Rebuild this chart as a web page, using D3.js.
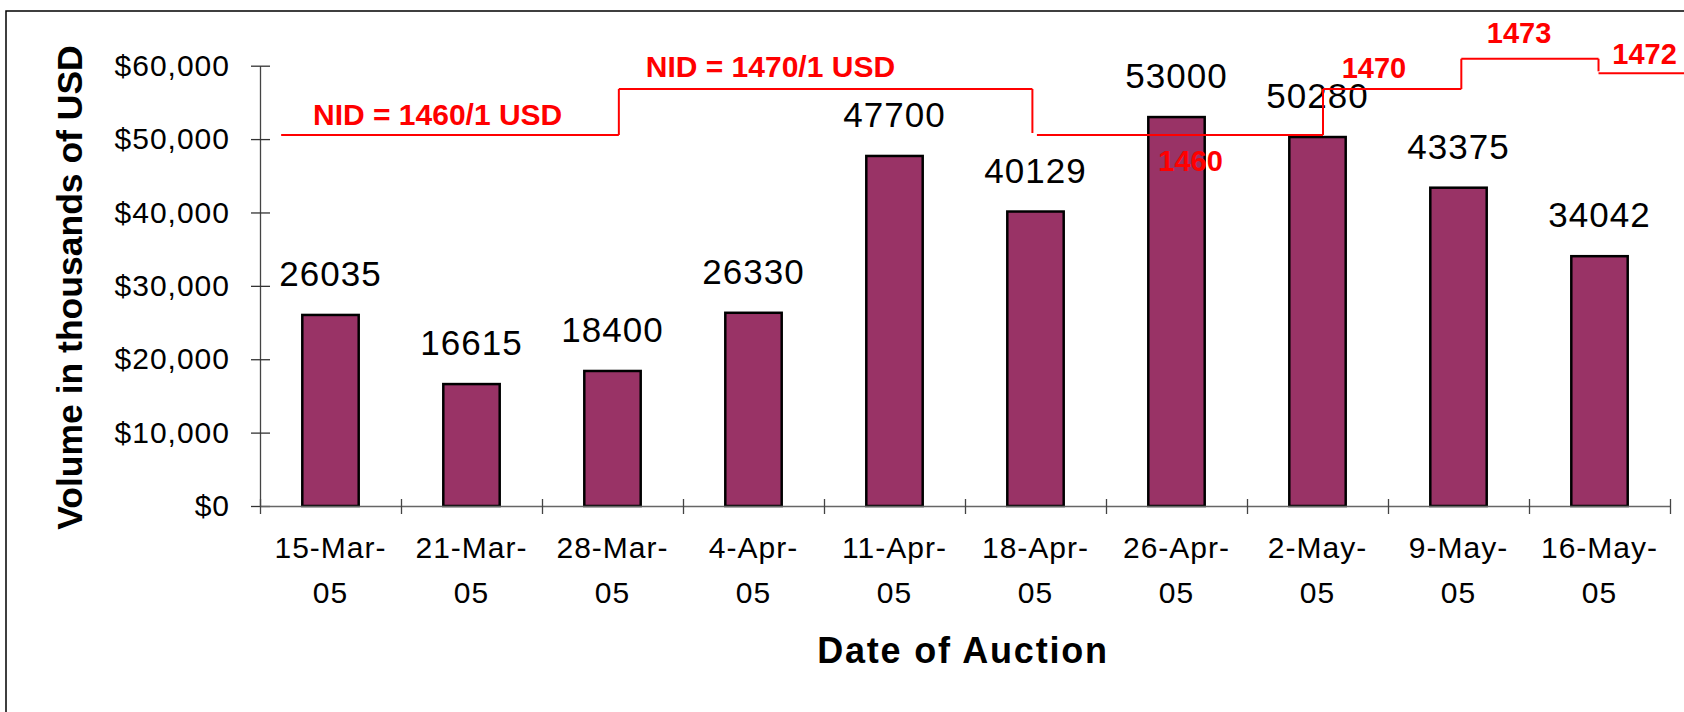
<!DOCTYPE html>
<html lang="en">
<head>
    <meta charset="UTF-8">
    <title>Volume by Date of Auction</title>
    <script src="https://d3js.org/d3.v7.min.js"></script>
    <style>
        body { margin: 0; background: #fff; }
        text { font-family: "Liberation Sans", Arial, sans-serif; }
    </style>
</head>
<body>
    <svg width="1684" height="712"></svg>

    <script>
        // data
        const categories = ["15-Mar-05", "21-Mar-05", "28-Mar-05", "4-Apr-05", "11-Apr-05",
                            "18-Apr-05", "26-Apr-05", "2-May-05", "9-May-05", "16-May-05"];
        const volumes = [26035, 16615, 18400, 26330, 47700, 40129, 53000, 50280, 43375, 34042];
        const yTicks = [0, 10000, 20000, 30000, 40000, 50000, 60000];

        // exchange rate annotation (NID per 1 USD)
        const rates = [1460, 1470, 1460, 1470, 1473, 1472];
        const rateLabels = ["NID = 1460/1 USD", "NID = 1470/1 USD", "1460", "1470", "1473", "1472"];

        const margin = { top: 65.7, left: 260 };
        const width = 1410;
        const height = 440.3;

        const svg = d3.select("svg");

        // outer frame
        svg.append("rect")
            .attr("x", 6).attr("y", 11)
            .attr("width", 1700).attr("height", 720)
            .attr("fill", "none")
            .attr("stroke", "#000")
            .attr("stroke-width", 1.5);

        const g = svg.append("g")
            .attr("transform", `translate(${margin.left},${margin.top})`);

        const x = d3.scaleBand()
            .domain(categories)
            .range([0, width])
            .paddingInner(0.6)
            .paddingOuter(0.3);

        // category index -> position (for tick marks and the rate steps)
        const xEdge = d3.scaleLinear()
            .domain([0, categories.length])
            .range([0, width]);

        const y = d3.scaleLinear()
            .domain([0, 60000])
            .range([height, 0]);

        // bars
        g.selectAll(".bar")
            .data(volumes)
            .join("rect")
            .attr("class", "bar")
            .attr("x", (d, i) => x(categories[i]))
            .attr("y", d => y(d))
            .attr("width", x.bandwidth())
            .attr("height", d => height - y(d))
            .attr("fill", "#993366")
            .attr("stroke", "#000")
            .attr("stroke-width", 2.5);

        // value labels
        g.selectAll(".val")
            .data(volumes)
            .join("text")
            .attr("class", "val")
            .attr("x", (d, i) => x(categories[i]) + x.bandwidth() / 2)
            .attr("y", d => y(d) - 29)
            .attr("text-anchor", "middle")
            .attr("font-size", 35)
            .attr("letter-spacing", 1)
            .attr("fill", "#000")
            .text(d => d);

        // y axis
        g.append("g")
            .call(d3.axisLeft(y)
                .tickValues(yTicks)
                .tickFormat(d3.format("$,"))
                .tickSize(9)
                .tickSizeOuter(0)
                .tickPadding(21))
            .call(a => {
                a.attr("font-family", null).attr("font-size", null);
                a.select(".domain").attr("stroke", "#444").attr("stroke-width", 1.3);
                a.selectAll(".tick line").attr("x1", 10).attr("x2", -9).attr("stroke", "#333").attr("stroke-width", 1.3);
                a.selectAll(".tick text")
                    .attr("font-size", 30)
                    .attr("letter-spacing", 1)
                    .attr("fill", "#000")
                    .attr("dy", "0.32em");
            });

        // x axis: tick marks between categories
        const xAxis = g.append("g")
            .attr("transform", `translate(0,${height})`)
            .call(d3.axisBottom(xEdge)
                .tickValues(d3.range(categories.length + 1))
                .tickFormat("")
                .tickSize(8)
                .tickSizeOuter(0))
            .call(a => {
                a.select(".domain").attr("stroke", "#666").attr("stroke-width", 1.5);
                a.selectAll(".tick line").attr("y1", -7).attr("y2", 8).attr("stroke", "#444").attr("stroke-width", 1.3);
            });

        // x labels on two lines
        const xLab = g.selectAll(".xlab")
            .data(categories)
            .join("text")
            .attr("class", "xlab")
            .attr("text-anchor", "middle")
            .attr("font-size", 30)
            .attr("letter-spacing", 1)
            .attr("fill", "#000");
        xLab.append("tspan")
            .attr("x", d => x(d) + x.bandwidth() / 2)
            .attr("y", height + 52)
            .text(d => d.slice(0, d.lastIndexOf("-") + 1));
        xLab.append("tspan")
            .attr("x", d => x(d) + x.bandwidth() / 2)
            .attr("y", height + 97)
            .text(d => d.slice(d.lastIndexOf("-") + 1));

        // axis titles
        svg.append("text")
            .attr("transform", "translate(82,287.5) rotate(-90)")
            .attr("text-anchor", "middle")
            .attr("font-size", 35.5)
            .attr("font-weight", "bold")
            .text("Volume in thousands of USD");

        svg.append("text")
            .attr("x", 963)
            .attr("y", 663)
            .attr("text-anchor", "middle")
            .attr("font-size", 36)
            .attr("font-weight", "bold")
            .attr("letter-spacing", 1.8)
            .text("Date of Auction");

        // rate step line (drawn by hand in the original, so levels are not linear)
        const rateY = d3.scaleLinear()
            .domain([1460, 1470, 1472, 1473])
            .range([50560, 56830, 58960, 60950].map(y));

        const stepStart = [0.15, 2.545, 5.51, 7.539, 8.52, 9.493];
        const stepEnd = [2.545, 5.478, 7.539, 8.52, 9.493, 10.2];

        const red = "#ff0000";
        const steps = g.append("g")
            .attr("stroke", red)
            .attr("stroke-width", 2)
            .attr("fill", "none");

        steps.selectAll(".h")
            .data(rates)
            .join("line")
            .attr("x1", (d, i) => xEdge(stepStart[i]))
            .attr("x2", (d, i) => xEdge(stepEnd[i]))
            .attr("y1", d => rateY(d))
            .attr("y2", d => rateY(d));

        steps.selectAll(".v")
            .data(rates.slice(1))
            .join("line")
            .attr("x1", (d, i) => xEdge(stepEnd[i]))
            .attr("x2", (d, i) => xEdge(stepEnd[i]))
            .attr("y1", (d, i) => rateY(rates[i]))
            .attr("y2", (d, i) => rateY(d) + (rates[i] > d ? -2 : 0));

        const labelAt = [1.26, 3.62, 6.6, 7.9, 8.93, 9.82];
        const labelDy = [-10, -12, 36, -11, -16, -9];
        g.selectAll(".rate")
            .data(rateLabels)
            .join("text")
            .attr("class", "rate")
            .attr("x", (d, i) => xEdge(labelAt[i]))
            .attr("y", (d, i) => rateY(rates[i]) + labelDy[i])
            .attr("text-anchor", "middle")
            .attr("font-size", (d, i) => i < 2 ? 30 : 29)
            .attr("font-weight", "bold")
            .attr("fill", red)
            .text(d => d);
    </script>
</body>
</html>
